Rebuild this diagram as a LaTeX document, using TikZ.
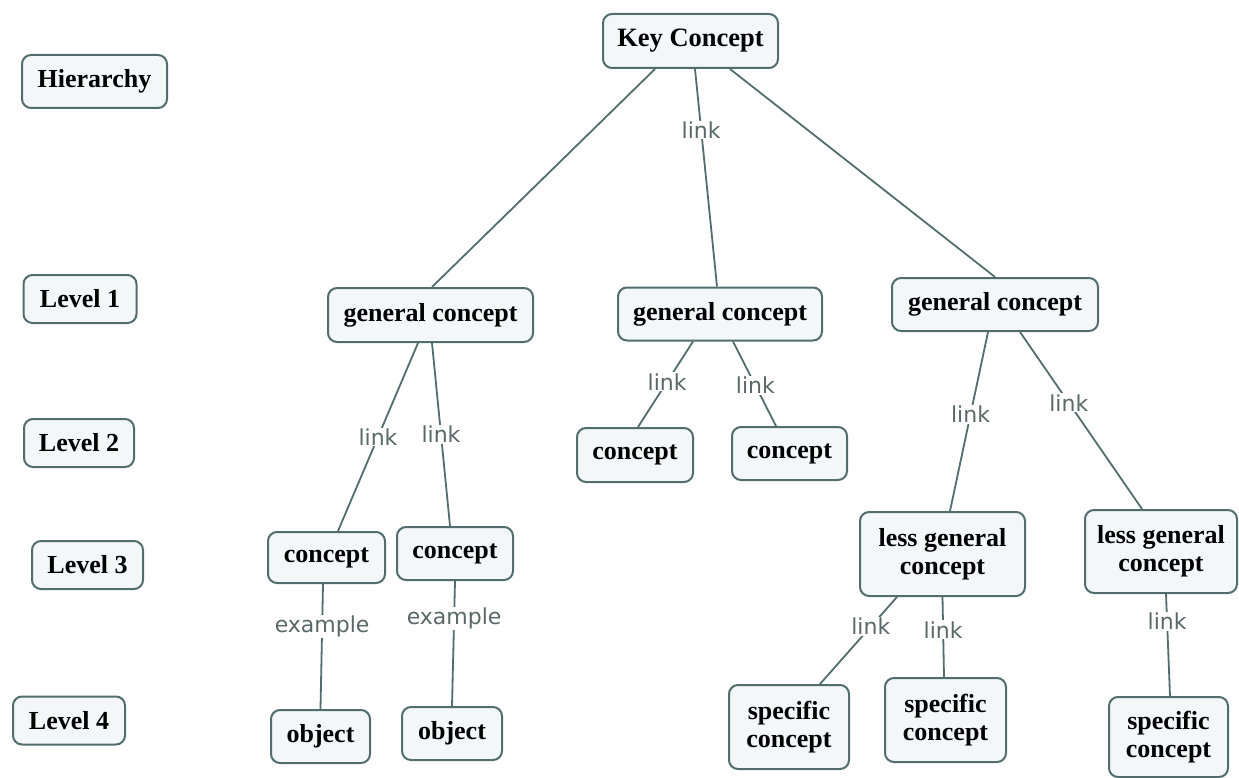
\documentclass[tikz,border=0pt]{standalone}
\usepackage{fontspec}
\setmainfont{Liberation Serif}
\newfontfamily\linkfont{DejaVu Sans}
\usepackage{tikz}

\definecolor{edgegray}{HTML}{536D6D}
\definecolor{boxfill}{HTML}{F3F7F7}
\definecolor{linkgray}{HTML}{5A6868}

\begin{document}
\begin{tikzpicture}[x=1pt,y=-1pt,
conceptbox/.style =
  {rectangle,
   draw=edgegray, fill=boxfill,
   line width=2pt, rounded corners=9pt,
   font=\fontsize{26}{28}\selectfont\bfseries,
   align=center, inner sep=2pt,
   minimum height=52pt},
levelbox/.style =
  {conceptbox, minimum height=48pt},
linklabel/.style =
  {fill=white, inner sep=1pt, text=linkgray,
   font=\fontsize{22}{24}\linkfont},
linkline/.style={draw=edgegray, line width=1.8pt}
]
\useasboundingbox (0,0) rectangle (1239,778);
%Nodes
\node[levelbox, minimum width=145pt, minimum height=53pt](hier) at (94.5,81.5){Hierarchy};
\node[levelbox, minimum width=113pt](lvl1) at (80,299){Level 1};
\node[levelbox, minimum width=110pt](lvl2) at (79,443){Level 2};
\node[levelbox, minimum width=111pt](lvl3) at (87.5,565){Level 3};
\node[levelbox, minimum width=112pt](lvl4) at (69,720.5){Level 4};

\node[conceptbox, minimum width=175pt, minimum height=54pt, font=\fontsize{26.5}{28}\selectfont\bfseries](key) at (690.5,41){Key Concept};

\node[conceptbox, minimum width=205pt, minimum height=54pt](gen1) at (430.5,315){general concept};
\node[conceptbox, minimum width=204pt, minimum height=53pt](gen2) at (720,314){general concept};
\node[conceptbox, minimum width=206pt, minimum height=53pt](gen3) at (995,304.5){general concept};

\node[conceptbox, minimum width=116pt, minimum height=54pt](con2a) at (635,455){concept};
\node[conceptbox, minimum width=115pt, minimum height=53pt](con2b) at (789.5,453.5){concept};

\node[conceptbox, minimum width=117pt, minimum height=51pt](con3a) at (326.5,557.5){concept};
\node[conceptbox, minimum width=116pt, minimum height=53pt](con3b) at (455,553.5){concept};

\node[conceptbox, minimum width=99pt, minimum height=53pt](obj1) at (320.5,736.5){object};
\node[conceptbox, minimum width=100pt, minimum height=53pt](obj2) at (452,733.5){object};

\node[conceptbox, minimum width=165pt, minimum height=84pt](less1) at (942.5,554){less general\\concept};
\node[conceptbox, minimum width=152pt, minimum height=83pt](less2) at (1161,551.5){less general\\concept};

\node[conceptbox, minimum width=120pt, minimum height=84pt](spec1) at (789,727){specific\\concept};
\node[conceptbox, minimum width=121pt, minimum height=84pt](spec2) at (945.5,720){specific\\concept};
\node[conceptbox, minimum width=119pt, minimum height=80pt](spec3) at (1168.5,737){specific\\concept};

%Links
\draw[linkline] ([xshift=-35.5pt]key.south) -- ([xshift=1.5pt]gen1.north);
\draw[linkline] ([xshift=4.5pt]key.south) -- node[linklabel, pos=.28]{link} ([xshift=-3pt]gen2.north);
\draw[linkline] ([xshift=39.5pt]key.south) -- (gen3.north);

\draw[linkline] ([xshift=-12.5pt]gen1.south) -- node[linklabel, pos=.5]{link} ([xshift=11.5pt]con3a.north);
\draw[linkline] ([xshift=1.5pt]gen1.south) -- node[linklabel, pos=.5]{link} ([xshift=-5pt]con3b.north);

\draw[linkline] ([xshift=-27pt]gen2.south) -- node[linklabel, pos=.47]{link} ([xshift=3pt]con2a.north);
\draw[linkline] ([xshift=13pt]gen2.south) -- node[linklabel, pos=.52]{link} ([xshift=-13.5pt]con2b.north);

\draw[linkline] ([xshift=-7pt]gen3.south) -- node[linklabel, pos=.46]{link} ([xshift=7.5pt]less1.north);
\draw[linkline] ([xshift=25pt]gen3.south) -- node[linklabel, pos=.4]{link} ([xshift=-19pt]less2.north);

\draw[linkline] ([xshift=-3.5pt]con3a.south) -- node[linklabel, pos=.34]{example} (obj1.north);
\draw[linkline] (con3b.south) -- node[linklabel, pos=.3]{example} (obj2.north);

\draw[linkline] ([xshift=-45.5pt]less1.south) -- node[linklabel, pos=.34]{link} ([xshift=31pt]spec1.north);
\draw[linkline] (less1.south) -- node[linklabel, pos=.41]{link} ([xshift=-1.5pt]spec2.north);
\draw[linkline] ([xshift=5pt]less2.south) -- node[linklabel, pos=.27]{link} ([xshift=1.5pt]spec3.north);
\end{tikzpicture}
\end{document}
